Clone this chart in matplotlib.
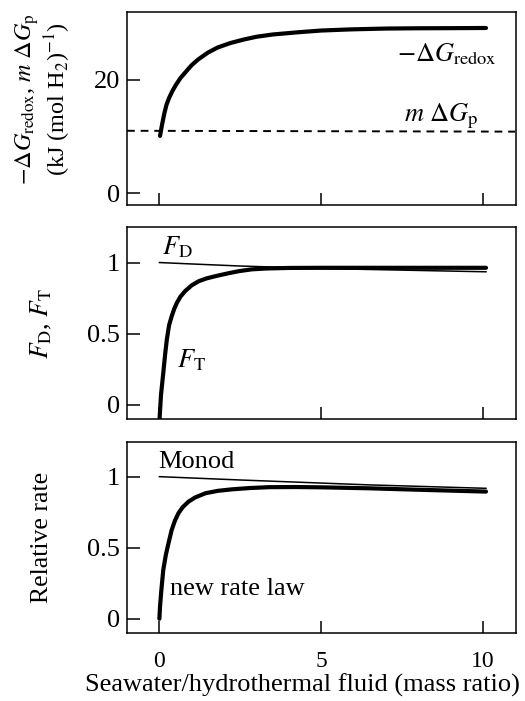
import matplotlib
matplotlib.use("Agg")
import matplotlib.pyplot as plt
import numpy as np

plt.rcParams['font.family'] = ['Liberation Serif', 'DejaVu Serif']
plt.rcParams['mathtext.fontset'] = 'stix'

# Energetics: -dG_redox along the mixing path, and the energy conserved m dG_p
x_redox = [0.02, 0.08, 0.15, 0.22, 0.3, 0.4, 0.5, 0.65, 0.8, 1.0, 1.2, 1.5, 1.8,
           2.2, 2.6, 3.0, 3.5, 4.3, 5.0, 5.9, 7.0, 8.0, 9.0, 10.1]
g_redox = [10.1, 12.0, 14.0, 15.6, 16.8, 18.0, 19.0, 20.3, 21.3, 22.6, 23.6, 24.8, 25.7,
           26.5, 27.1, 27.6, 28.0, 28.4, 28.7, 28.9, 29.05, 29.1, 29.12, 29.15]
x_gp = [-1.0, 11.0]
g_p = [11.0, 10.85]

# Kinetic (F_D) and thermodynamic (F_T) factors
x_fd = [0.0, 1.0, 2.45, 5.0, 10.1]
f_d = [1.0, 0.99, 0.976, 0.958, 0.935]
x_ft = [0.0, 0.05, 0.12, 0.18, 0.23, 0.3, 0.38, 0.46, 0.54, 0.65, 0.8, 1.0, 1.21,
        1.45, 1.73, 2.1, 2.45, 2.85, 3.28, 4.0, 5.0, 7.0, 10.1]
f_t = [-0.12, 0.07, 0.223, 0.36, 0.458, 0.56, 0.622, 0.675, 0.716, 0.76, 0.80, 0.84, 0.868,
       0.888, 0.904, 0.923, 0.939, 0.952, 0.958, 0.962, 0.963, 0.963, 0.963]

# Relative rates: Monod vs. the new rate law
x_monod = [0.0, 2.45, 6.5, 10.1]
r_monod = [1.0, 0.977, 0.942, 0.918]
x_new = [0.0, 0.02, 0.06, 0.12, 0.2, 0.28, 0.38, 0.48, 0.59, 0.72, 0.9, 1.1, 1.42,
         1.8, 2.25, 2.8, 3.39, 4.2, 5.0, 6.5, 8.0, 10.1]
r_new = [0.0, 0.086, 0.2, 0.344, 0.45, 0.53, 0.625, 0.69, 0.743, 0.785, 0.824, 0.853, 0.883,
         0.9, 0.911, 0.92, 0.926, 0.927, 0.925, 0.918, 0.908, 0.895]

x_ticks = [0, 5, 10]

fig = plt.figure(figsize=(5.25, 7.01), dpi=100)
ax1 = fig.add_axes([0.242, 0.7076, 0.741, 0.2755])
ax2 = fig.add_axes([0.242, 0.4023, 0.741, 0.2739])
ax3 = fig.add_axes([0.242, 0.0970, 0.741, 0.2725])

thick = 3.0
thin = 1.1
for ax in (ax1, ax2, ax3):
    ax.set_xlim(-1.0, 11.03)
    ax.set_xticks(x_ticks)
    ax.tick_params(direction='in', length=9, width=1.1)
    ax.tick_params(axis='y', labelsize=19, pad=5)
    ax.tick_params(axis='x', labelsize=17, pad=13)
    for s in ax.spines.values():
        s.set_linewidth(1.1)

# top panel
ax1.plot(x_redox, g_redox, color='black', lw=thick, solid_capstyle='round',
         solid_joinstyle='round')
ax1.plot(x_gp, g_p, color='black', lw=1.4, dashes=(4, 3))
ax1.set_ylim(-2.1, 32)
ax1.set_yticks([0, 20])
ax1.tick_params(labelbottom=False)
ax1.text(7.36, 23.2, r'$-\Delta G_{\rm redox}$', fontsize=19)
ax1.text(7.55, 12.6, r'$m\ \Delta G_{\rm p}$', fontsize=19)
ax1.set_ylabel('$-\\Delta G_{\\rm redox}$, $m\\ \\Delta G_{\\rm p}$\n(kJ (mol H$_2$)$^{-1}$)',
               fontsize=17.5, linespacing=1.05)
ax1.yaxis.set_label_coords(-0.14, 0.55)

# middle panel
ax2.plot(x_fd, f_d, color='black', lw=thin)
ax2.plot(x_ft, f_t, color='black', lw=thick, solid_capstyle='round',
         solid_joinstyle='round')
ax2.set_ylim(-0.1, 1.25)
ax2.set_yticks([0, 0.5, 1])
ax2.set_yticklabels(['0', '0.5', '1'])
ax2.tick_params(labelbottom=False)
ax2.text(0.07, 1.056, r'$F_{\rm D}$', fontsize=19)
ax2.text(0.53, 0.26, r'$F_{\rm T}$', fontsize=19)
ax2.set_ylabel(r'$F_{\rm D}$, $F_{\rm T}$', fontsize=18.5)
ax2.yaxis.set_label_coords(-0.187, 0.5)

# bottom panel
ax3.plot(x_monod, r_monod, color='black', lw=thin)
ax3.plot(x_new, r_new, color='black', lw=thick, solid_capstyle='round',
         solid_joinstyle='round')
ax3.set_ylim(-0.1, 1.244)
ax3.set_yticks([0, 0.5, 1])
ax3.set_yticklabels(['0', '0.5', '1'])
ax3.text(-0.03, 1.06, 'Monod', fontsize=19)
ax3.text(0.33, 0.169, 'new rate law', fontsize=19)
ax3.set_ylabel('Relative rate', fontsize=18.5)
ax3.yaxis.set_label_coords(-0.19, 0.5)
ax3.set_xlabel('Seawater/hydrothermal fluid (mass ratio)', fontsize=19, labelpad=1, x=0.45)

fig.savefig('out.png', dpi=100)
